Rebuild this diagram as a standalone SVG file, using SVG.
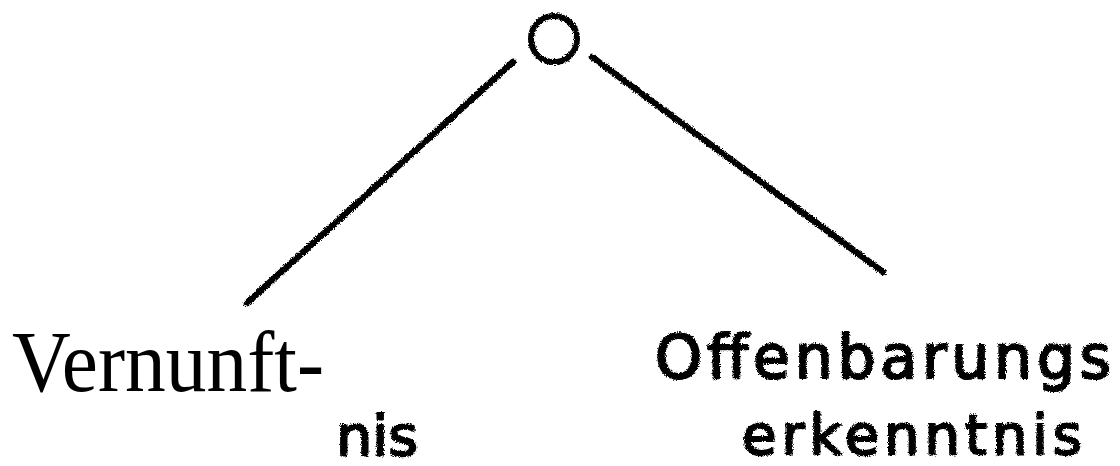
<svg xmlns="http://www.w3.org/2000/svg" width="1120" height="466" viewBox="0 0 1120 466">
  <style>
    .ink { stroke: #000; fill: none; stroke-linecap: round; }
    .hand { font-family: "DejaVu Sans", "Noto Sans", sans-serif; fill: #000; stroke: #000; stroke-width: 2.2; stroke-linejoin: round; }
    .serif { font-family: "Liberation Serif", "Times New Roman", serif; fill: #000; }
  </style>
  <defs>
    <filter id="rough" x="-5%" y="-10%" width="110%" height="120%">
      <feTurbulence type="fractalNoise" baseFrequency="0.9" numOctaves="2" seed="3" result="n"/>
      <feDisplacementMap in="SourceGraphic" in2="n" scale="4" xChannelSelector="R" yChannelSelector="G"/>
    </filter>
  </defs>
  <rect width="1120" height="466" fill="#fff"/>
  <g id="connectors" filter="url(#rough)">
    <line class="ink" x1="513" y1="62" x2="247" y2="303" stroke-width="6.5"/>
    <line class="ink" x1="592" y1="57" x2="883" y2="272" stroke-width="6.5"/>
  </g>
  <g id="node-root" filter="url(#rough)">
    <circle class="ink" cx="554" cy="39" r="23" stroke-width="6"/>
  </g>
  <g id="node-vernunft">
    <text class="serif" x="12" y="391" font-size="86" textLength="312" lengthAdjust="spacingAndGlyphs">Vernunft-</text>
    <text class="hand" x="336" y="455" font-size="56" textLength="82" lengthAdjust="spacingAndGlyphs" filter="url(#rough)">nis</text>
  </g>
  <g id="node-offenbarung" filter="url(#rough)">
    <text class="hand" x="655" y="378" font-size="60" textLength="456" lengthAdjust="spacing">Offenbarungs</text>
    <text class="hand" x="742" y="454" font-size="56" textLength="340" lengthAdjust="spacing">erkenntnis</text>
  </g>
</svg>
